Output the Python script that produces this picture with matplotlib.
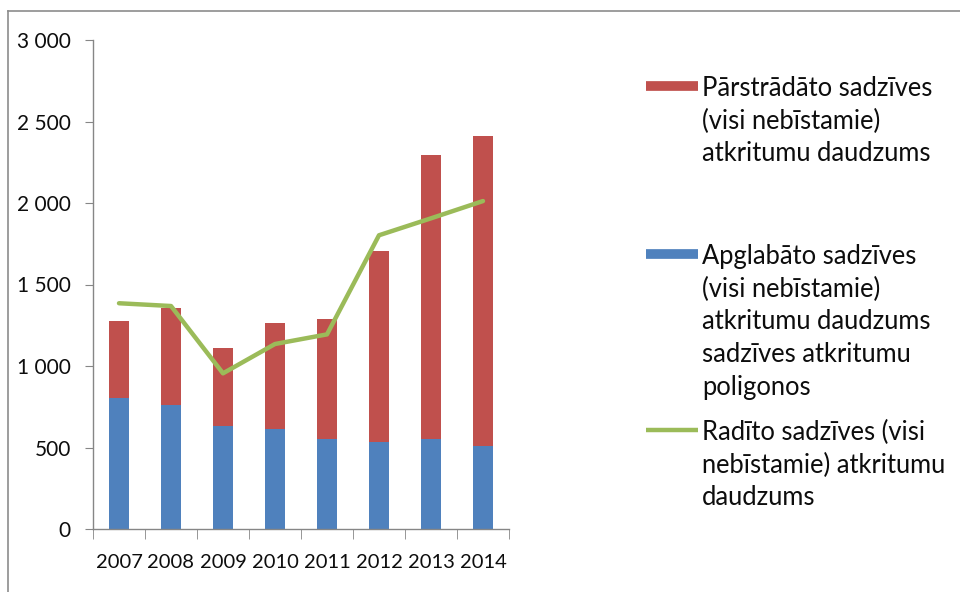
import matplotlib.pyplot as plt
from matplotlib.lines import Line2D
import numpy as np

plt.rcParams['font.family'] = ['Lato', 'DejaVu Sans']

years = ['2007', '2008', '2009', '2010', '2011', '2012', '2013', '2014']
landfilled = [802, 761, 634, 612, 552, 532, 552, 511]
recycled_total = [1278, 1358, 1112, 1262, 1290, 1706, 2294, 2413]
generated = [1385, 1368, 955, 1135, 1194, 1802, 1906, 2012]
recycled = [t - b for t, b in zip(recycled_total, landfilled)]

labels = [
    'Pārstrādāto sadzīves\n(visi nebīstamie)\natkritumu daudzums',
    'Apglabāto sadzīves\n(visi nebīstamie)\natkritumu daudzums\nsadzīves atkritumu\npoligonos',
    'Radīto sadzīves (visi\nnebīstamie) atkritumu\ndaudzums',
]

blue = '#4f81bd'
red = '#c0504d'
green = '#9bbb59'
ink = '#0d0d0d'

W, H = 960, 592
fig = plt.figure(figsize=(W / 100, H / 100), dpi=100)
ax = fig.add_axes([93 / W, 1 - 529 / H, (509 - 93) / W, (529 - 40) / H])

x = np.arange(len(years))
bw = 0.38
ax.bar(x, landfilled, bw, color=blue, zorder=2)
ax.bar(x, recycled, bw, bottom=landfilled, color=red, zorder=2)
ax.plot(x, generated, color=green, lw=3.2, zorder=3, solid_capstyle='round')

ax.set_xlim(-0.5, len(years) - 0.5)
ax.set_ylim(0, 3000)
ax.set_yticks(np.arange(0, 3001, 500))
ax.set_yticklabels([f'{v:,}'.replace(',', ' ') for v in range(0, 3001, 500)])
ax.set_xticks(x)
ax.set_xticklabels(years)
ax.set_xticks(np.arange(-0.5, len(years), 1), minor=True)

for s in ['top', 'right']:
    ax.spines[s].set_visible(False)
for s in ['left', 'bottom']:
    ax.spines[s].set_color('#868686')
    ax.spines[s].set_linewidth(1.0)

ax.tick_params(axis='y', direction='out', length=6, color='#868686',
               labelsize=15, pad=10, labelcolor=ink)
ax.tick_params(axis='x', which='major', length=0, labelsize=14.5, pad=18,
               labelcolor=ink)
ax.tick_params(axis='x', which='minor', direction='out', length=7,
               color='#868686')

# outer chart frame (left and top edges)
fig.add_artist(Line2D([8 / W, 8 / W], [0, 1 - 11 / H], color='#8c8c8c', lw=1.2,
                      transform=fig.transFigure))
fig.add_artist(Line2D([8 / W, 1], [1 - 11 / H, 1 - 11 / H], color='#8c8c8c', lw=1.2,
                      transform=fig.transFigure))

# legend
entries = [
    (86, dict(color=red, lw=7, solid_capstyle='butt')),
    (254, dict(color=blue, lw=7, solid_capstyle='butt')),
    (430, dict(color=green, lw=3.2, solid_capstyle='butt')),
]
for (ypix, style), text in zip(entries, labels):
    yf = 1 - ypix / H
    fig.add_artist(Line2D([646 / W, 698 / W], [yf, yf], transform=fig.transFigure,
                          **style))
    fig.text(702 / W, 1 - (ypix - 10) / H, text, ha='left', va='top',
             fontsize=18.4, linespacing=1.38, color=ink)

fig.savefig('out.png', dpi=100)
